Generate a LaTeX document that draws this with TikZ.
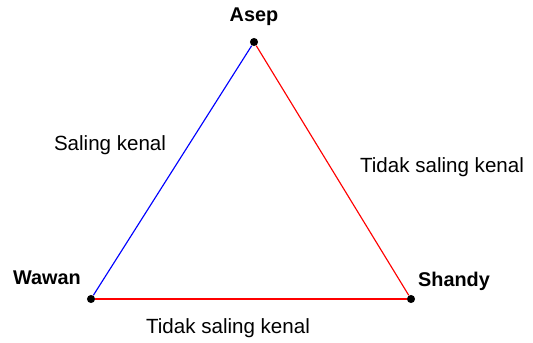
\documentclass[tikz,border=0pt]{standalone}
\usepackage{fontspec}
\setmainfont{Liberation Sans}
\usepackage{xcolor}
\usetikzlibrary{positioning}

\begin{document}
\begin{tikzpicture}[
  x=0.02cm, y=-0.02cm,
  person/.style={circle, fill=black, inner sep=0pt, minimum size=4.6pt},
  who/.style={font=\fontsize{11.3}{13}\selectfont\bfseries},
  rel/.style={font=\fontsize{11.7}{14}\selectfont},
  edge/.style={line width=0.65pt}
]
\useasboundingbox (0,0) rectangle (533,342);

\node[person] (asep) at (254,42) {};
\node[person] (wawan) at (91,299) {};
\node[person] (shandy) at (411,299) {};

\node[who] (asepname) at (254,17) {Asep};
\node[who] (wawanname) at (47,278) {Wawan};
\node[who] (shandyname) at (454,281) {Shandy};

\draw[edge, blue] (asep) -- (wawan);
\draw[edge, red] (asep) -- (shandy);
\draw[edge, red] (wawan) -- (shandy);

\node[rel] (kenal) at (110,145) {Saling kenal};
\node[rel] (tidakkanan) at (442,167) {Tidak saling kenal};
\node[rel] (tidakbawah) at (228,328) {Tidak saling kenal};

\end{tikzpicture}
\end{document}
